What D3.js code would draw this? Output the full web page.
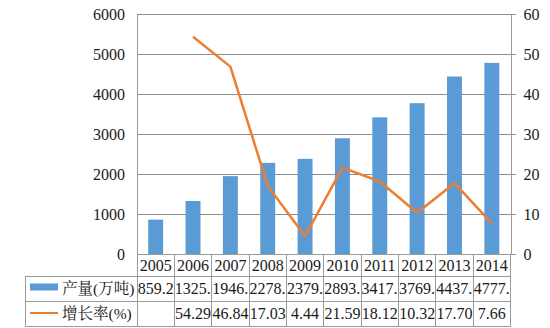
<!DOCTYPE html>
<html><head><meta charset="utf-8">
<script src="https://cdn.jsdelivr.net/npm/d3@7"></script>
<style>
html,body{margin:0;padding:0;background:#fff;}
svg{display:block;}
</style></head>
<body><svg id="c" width="550" height="328"></svg>
<script>
const years = ["2005","2006","2007","2008","2009","2010","2011","2012","2013","2014"];
const production = [859.2,1325.6,1946.5,2278.0,2379.1,2893.0,3417.2,3769.9,4437.2,4777.1];
const growthRate = [null,54.29,46.84,17.03,4.44,21.59,18.12,10.32,17.70,7.66];
const leftTicks = [0,1000,2000,3000,4000,5000,6000];
const rightTicks = [0,10,20,30,40,50,60];
const seriesNames = ["产量(万吨)","增长率(%)"];

const SERIF = "'Liberation Serif', serif";
const CJK = "'Liberation Serif', 'Noto Serif CJK SC', 'Noto Sans CJK SC', serif";
const svg = d3.select("#c");
const L = 137, R = 510.5, T = 14, B = 254;
const rowLines = [276, 301, 326];
const tableLeft = 25;
const blue = "#5b9bd5", orange = "#ed7d31", gridC = "#8e8e8e", lineC = "#9a9a9a", txtC = "#1a1a1a";

const x = d3.scaleBand().domain(years).range([L, R]).paddingInner(0.6).paddingOuter(0.3);
const step = x.step();
const yL = d3.scaleLinear().domain([0, 6000]).range([B, T]);
const yR = d3.scaleLinear().domain([0, 60]).range([B, T]);

// gridlines
const grid = svg.append("g").attr("transform", `translate(${L},0)`)
  .call(d3.axisLeft(yL).tickValues(leftTicks.slice(1)).tickSize(-(R - L)).tickFormat(""));
grid.select(".domain").remove();
grid.selectAll("line").attr("stroke", gridC).attr("stroke-width", 1).attr("shape-rendering","crispEdges");

// left axis labels
const la = svg.append("g").attr("transform", `translate(${L},0)`)
  .call(d3.axisLeft(yL).tickValues(leftTicks).tickSize(0).tickPadding(12).tickFormat(d3.format("d")));
la.attr("font-family", null).attr("font-size", null);
la.select(".domain").attr("stroke", lineC).attr("shape-rendering","crispEdges");
la.selectAll("text").attr("font-family", SERIF).style("font-family", SERIF).style("font-size", "16px").style("fill", txtC);

// right axis
const ra = svg.append("g").attr("transform", `translate(${R},0)`)
  .call(d3.axisRight(yR).tickValues(rightTicks).tickSizeInner(5).tickSizeOuter(0).tickPadding(8).tickFormat(d3.format("d")));
ra.attr("font-family", null).attr("font-size", null);
ra.select(".domain").attr("stroke", lineC).attr("shape-rendering","crispEdges");
ra.selectAll("line").attr("stroke", lineC).attr("shape-rendering","crispEdges");
ra.selectAll("text").attr("font-family", SERIF).style("font-family", SERIF).style("font-size", "16px").style("fill", txtC);

// bars
svg.append("g").selectAll("rect").data(production).join("rect")
  .attr("x", (d, i) => x(years[i]))
  .attr("width", x.bandwidth())
  .attr("y", d => yL(d))
  .attr("height", d => B - yL(d))
  .attr("fill", blue);

// line
const pts = growthRate.map((v, i) => ({v, yr: years[i]})).filter(p => p.v !== null);
svg.append("path").datum(pts)
  .attr("fill", "none").attr("stroke", orange).attr("stroke-width", 2.5).attr("stroke-linejoin","round")
  .attr("d", d3.line().x(p => x(p.yr) + x.bandwidth() / 2).y(p => yR(p.v)));

// table grid
const tg = svg.append("g").attr("stroke", lineC).attr("stroke-width", 1).attr("shape-rendering","crispEdges");
tg.append("line").attr("x1", L).attr("x2", R).attr("y1", B).attr("y2", B);
rowLines.forEach(yv => tg.append("line").attr("x1", tableLeft).attr("x2", R).attr("y1", yv).attr("y2", yv));
tg.append("line").attr("x1", tableLeft).attr("x2", tableLeft).attr("y1", rowLines[0]).attr("y2", rowLines[2]);
const bounds = d3.range(years.length + 1).map(i => L + i * step);
bounds.forEach(bx => tg.append("line").attr("x1", bx).attr("x2", bx).attr("y1", B).attr("y2", rowLines[2]));

// cell text: centered if it fits, else left-aligned and truncated to the cell (as in the source table)
const rowsY = [[B, rowLines[0]], [rowLines[0], rowLines[1]], [rowLines[1], rowLines[2]]];
function cellText(row, col, str) {
  const [y0, y1] = rowsY[row];
  const cx0 = L + col * step;
  const t = svg.append("text")
    .attr("font-family", SERIF).style("font-family", SERIF).style("font-size", "16px").style("fill", txtC)
    .attr("y", (y0 + y1) / 2 + 5.5).text(str);
  let s = str;
  if (t.node().getComputedTextLength() > step + 1) {
    while (s.length > 1 && t.node().getComputedTextLength() > step + 0.5) {
      s = s.slice(0, -1); t.text(s);
    }
    t.attr("x", cx0 + 0.5).attr("text-anchor", "start");
  } else {
    t.attr("x", cx0 + step / 2).attr("text-anchor", "middle");
  }
}
years.forEach((yr, i) => cellText(0, i, yr));
production.forEach((v, i) => cellText(1, i, v.toFixed(1)));
growthRate.forEach((v, i) => { if (v !== null) cellText(2, i, v.toFixed(2)); });

// legend keys + row labels
svg.append("rect").attr("x", 30).attr("y", 283.5).attr("width", 28).attr("height", 7).attr("fill", blue);
svg.append("line").attr("x1", 30).attr("x2", 58).attr("y1", 313).attr("y2", 313).attr("stroke", orange).attr("stroke-width", 2);
svg.append("text").attr("x", 62).attr("y", (rowLines[0] + rowLines[1]) / 2 + 5.5)
  .style("font-size", "15.5px").style("font-family", CJK).style("fill", txtC).text(seriesNames[0]);
svg.append("text").attr("x", 62).attr("y", (rowLines[1] + rowLines[2]) / 2 + 5.5)
  .style("font-size", "15.5px").style("font-family", CJK).style("fill", txtC).text(seriesNames[1]);
</script></body></html>
